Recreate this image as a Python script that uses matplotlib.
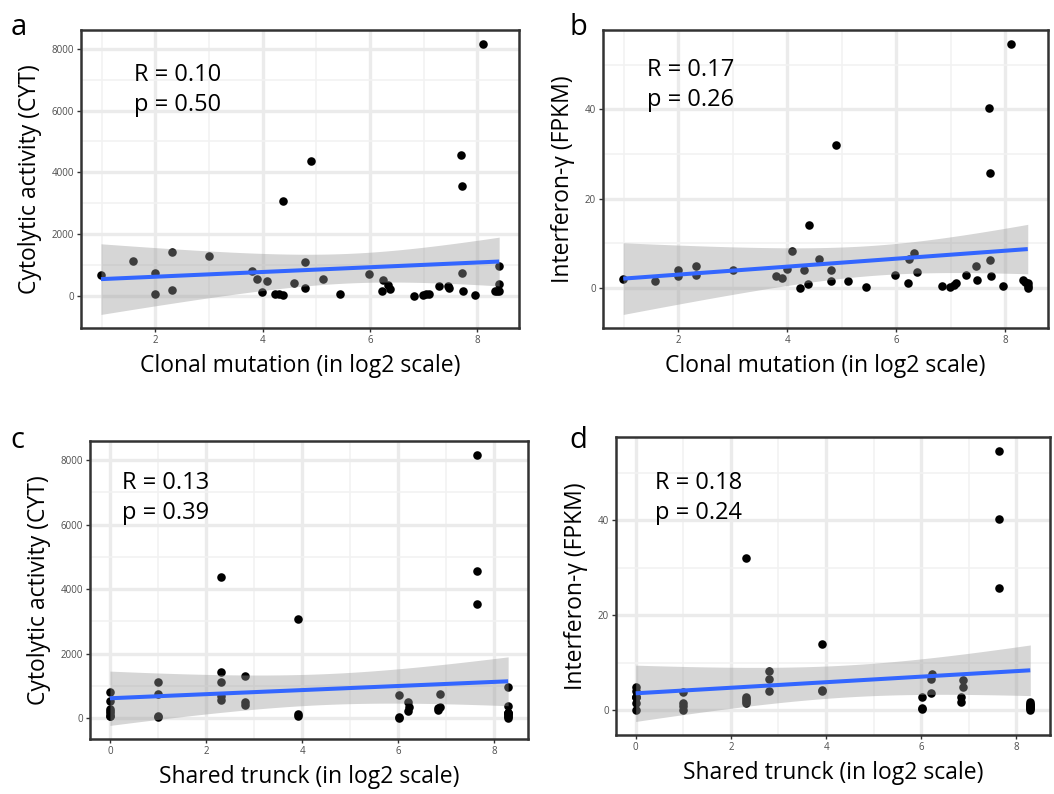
import numpy as np
import matplotlib.pyplot as plt

plt.rcParams['font.family'] = ['Open Sans', 'DejaVu Sans']

# per-sample values (same sample order in every list)
clonal = [0.99, 1.58, 2.00, 2.00, 2.32, 2.32, 3.00, 3.80, 3.90, 3.99, 4.09,
          4.23, 4.30, 4.38, 4.39, 4.58, 4.80, 4.80, 4.90, 5.12, 5.45, 5.98,
          6.22, 6.24, 6.33, 6.37, 6.83, 6.99, 7.05, 7.10, 7.28, 7.46, 7.48,
          7.69, 7.71, 7.72, 7.74, 7.96, 8.11, 8.33, 8.36, 8.41, 8.41, 8.41]
trunk = [2.32, 1.00, 1.00, 0.00, 2.32, 0.00, 2.81, 0.00, 2.32, 3.91, 2.81,
         1.00, 3.91, 1.00, 3.91, 2.81, 2.32, 0.00, 2.32, 0.00, 0.00, 6.02,
         8.29, 6.21, 6.23, 6.21, 6.02, 6.02, 8.29, 8.29, 6.83, 6.87, 6.83,
         7.64, 7.64, 6.87, 0.00, 8.29, 7.64, 8.29, 8.29, 8.29, 8.29, 8.29]
cyt = [676, 1127, 753, 77, 1417, 206, 1300, 795, 560, 119, 496,
       50, 50, 30, 3082, 409, 1108, 270, 4380, 538, 77, 720,
       161, 505, 355, 226, 0, 30, 50, 77, 322, 330, 240,
       4573, 3543, 741, 151, 13, 8170, 153, 153, 153, 957, 377]
ifng = [2.0, 1.5, 3.9, 2.7, 2.9, 4.8, 4.1, 2.7, 2.3, 4.2, 8.3,
        0.0, 4.1, 0.8, 14.0, 6.5, 1.6, 4.0, 32.1, 1.6, 0.15, 2.9,
        1.1, 6.5, 7.7, 3.6, 0.45, 0.3, 0.7, 1.0, 2.9, 4.9, 1.8,
        40.3, 25.7, 6.3, 2.7, 0.4, 54.7, 1.7, 1.4, 1.1, 0.0, 0.4]

stats = {'a': ('0.10', '0.50'), 'b': ('0.17', '0.26'),
         'c': ('0.13', '0.39'), 'd': ('0.18', '0.24')}

T975 = 2.018  # t quantile, 95% band, df = 42


def lm_panel(ax, x, y, xticks, xminor, yticks, yminor, xlabel, ylabel, stat, txt_pos):
    x = np.asarray(x, float)
    y = np.asarray(y, float)
    n = len(x)
    b1, b0 = np.polyfit(x, y, 1)
    xs = np.linspace(x.min(), x.max(), 100)
    fit = b0 + b1 * xs
    s = np.sqrt(np.sum((y - (b0 + b1 * x)) ** 2) / (n - 2))
    se = s * np.sqrt(1 / n + (xs - x.mean()) ** 2 / np.sum((x - x.mean()) ** 2))
    lo, hi = fit - T975 * se, fit + T975 * se

    ax.scatter(x, y, s=38, color='black', linewidths=0, zorder=3)
    ax.fill_between(xs, lo, hi, color='#999999', alpha=0.4, lw=0, zorder=4)
    ax.plot(xs, fit, color='#3366FF', lw=2.9, zorder=5, solid_capstyle='butt')

    # ggplot-like 5% expansion
    x0, x1 = x.min(), x.max()
    y0, y1 = min(y.min(), lo.min()), max(y.max(), hi.max())
    ax.set_xlim(x0 - 0.05 * (x1 - x0), x1 + 0.05 * (x1 - x0))
    ax.set_ylim(y0 - 0.05 * (y1 - y0), y1 + 0.05 * (y1 - y0))

    ax.set_xticks(xticks)
    ax.set_xticks(xminor, minor=True)
    ax.set_yticks(yticks)
    ax.set_yticks(yminor, minor=True)
    ax.grid(which='major', color='#EBEBEB', lw=2.4)
    ax.grid(which='minor', color='#F2F2F2', lw=1.2)
    ax.set_axisbelow(True)
    ax.tick_params(which='major', length=3, width=1, color='#333333',
                   labelsize=7, labelcolor='#4D4D4D', pad=2)
    ax.tick_params(which='minor', length=0)
    for sp in ax.spines.values():
        sp.set_color('#333333')
        sp.set_linewidth(1.8)

    ax.set_xlabel(xlabel, fontsize=16.5, labelpad=6)
    ax.set_ylabel(ylabel, fontsize=16.5, labelpad=7)
    tx, ty = txt_pos
    ax.text(tx, ty, f'R = {stat[0]}', transform=ax.transAxes, fontsize=17,
            va='center', ha='left')
    ax.text(tx, ty - 0.1, f'p = {stat[1]}', transform=ax.transAxes, fontsize=17,
            va='center', ha='left')


fig = plt.figure(figsize=(10.54, 7.94), dpi=100)
ax_a = fig.add_axes([0.0769, 0.5869, 0.4156, 0.3753])
ax_b = fig.add_axes([0.5721, 0.5869, 0.4222, 0.3753])
ax_c = fig.add_axes([0.0854, 0.0693, 0.4156, 0.3753])
ax_d = fig.add_axes([0.5844, 0.0743, 0.4118, 0.3753])

cyt_ticks = [0, 2000, 4000, 6000, 8000]
cyt_minor = [1000, 3000, 5000, 7000]
ifn_ticks = [0, 20, 40]
ifn_minor = [10, 30, 50]

lm_panel(ax_a, clonal, cyt, [2, 4, 6, 8], [1, 3, 5, 7], cyt_ticks, cyt_minor,
         'Clonal mutation (in log2 scale)', 'Cytolytic activity (CYT)', stats['a'], (0.12, 0.85))
lm_panel(ax_b, clonal, ifng, [2, 4, 6, 8], [1, 3, 5, 7], ifn_ticks, ifn_minor,
         'Clonal mutation (in log2 scale)', 'Interferon-γ (FPKM)', stats['b'], (0.10, 0.866))
lm_panel(ax_c, trunk, cyt, [0, 2, 4, 6, 8], [1, 3, 5, 7], cyt_ticks, cyt_minor,
         'Shared trunck (in log2 scale)', 'Cytolytic activity (CYT)', stats['c'], (0.073, 0.86))
lm_panel(ax_d, trunk, ifng, [0, 2, 4, 6, 8], [1, 3, 5, 7], ifn_ticks, ifn_minor,
         'Shared trunck (in log2 scale)', 'Interferon-γ (FPKM)', stats['d'], (0.09, 0.846))

for lab, (fx, fy) in zip('abcd', [(0.010, 0.965), (0.540, 0.965),
                                  (0.010, 0.445), (0.540, 0.445)]):
    fig.text(fx, fy, lab, fontsize=21, va='center', ha='left')

fig.savefig('out.png', dpi=100)
